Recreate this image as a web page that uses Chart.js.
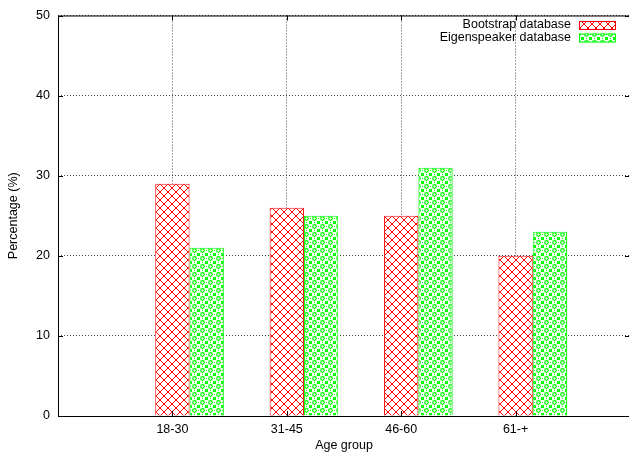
<!DOCTYPE html>
<html lang="en">

<head>
    <meta charset="UTF-8">
    <title>Age group distribution</title>
    <script src="https://cdn.jsdelivr.net/npm/chart.js"></script>
    <style>
        body {
            margin: 0;
            overflow: hidden;
            background: #fff;
        }
        #chart-container {
            width: 640px;
            height: 453px;
        }
    </style>
</head>

<body>
    <div id="chart-container">
        <canvas id="ageChart"></canvas>
    </div>

    <script>
        const categories = ['18-30', '31-45', '46-60', '61-+'];
        const bootstrap = [29, 26, 25, 20];
        const eigenspeaker = [21, 25, 31, 23];
        const yTicks = [0, 10, 20, 30, 40, 50];

        const FONT = '"Liberation Sans", Arial, sans-serif';

        // gnuplot-like fill patterns
        function crossPattern(color) {
            const c = document.createElement('canvas');
            c.width = 8; c.height = 8;
            const g = c.getContext('2d');
            g.fillStyle = '#fff';
            g.fillRect(0, 0, 8, 8);
            g.strokeStyle = color;
            g.lineWidth = 1;
            g.beginPath();
            g.moveTo(0, 0); g.lineTo(8, 8);
            g.moveTo(8, 0); g.lineTo(0, 8);
            g.stroke();
            return g.createPattern(c, 'repeat');
        }

        function ringPattern(color) {
            const c = document.createElement('canvas');
            c.width = 8; c.height = 8;
            const g = c.getContext('2d');
            g.fillStyle = '#fff';
            g.fillRect(0, 0, 8, 8);
            g.strokeStyle = color;
            g.fillStyle = color;
            g.lineWidth = 1.2;
            g.beginPath();
            g.arc(2.5, 2.5, 1.8, 0, Math.PI * 2);
            g.stroke();
            g.fillRect(5, 5, 3, 3);
            g.fillRect(2, 6, 1, 1);
            g.fillRect(6, 2, 1, 1);
            return g.createPattern(c, 'repeat');
        }

        const redFill = crossPattern('#ff0000');
        const greenFill = ringPattern('#00ff00');

        // frame with inward ticks on all four sides
        const frame = {
            id: 'frame',
            afterDatasetsDraw(chart) {
                const { ctx, chartArea: a, scales: { x, y } } = chart;
                ctx.save();
                ctx.strokeStyle = '#000';
                ctx.lineWidth = 1;
                ctx.strokeRect(a.left + 0.5, a.top + 0.5, a.right - a.left, a.bottom - a.top);
                ctx.beginPath();
                y.ticks.forEach(t => {
                    const py = Math.round(y.getPixelForValue(t.value)) + 0.5;
                    ctx.moveTo(a.left, py); ctx.lineTo(a.left + 5, py);
                    ctx.moveTo(a.right, py); ctx.lineTo(a.right - 5, py);
                });
                x.ticks.forEach(t => {
                    const px = Math.round(x.getPixelForValue(t.value)) + 0.5;
                    ctx.moveTo(px, a.bottom); ctx.lineTo(px, a.bottom - 5);
                    ctx.moveTo(px, a.top); ctx.lineTo(px, a.top + 5);
                });
                ctx.stroke();
                ctx.restore();
            }
        };

        // key in the top right corner, text right aligned, sample on the right
        const key = {
            id: 'key',
            afterDraw(chart) {
                const { ctx } = chart;
                ctx.save();
                ctx.font = '12.5px ' + FONT;
                ctx.textAlign = 'right';
                ctx.textBaseline = 'middle';
                chart.data.datasets.forEach((ds, i) => {
                    const yc = 25 + i * 12.5;
                    ctx.fillStyle = '#000';
                    ctx.fillText(ds.label, 571, yc);
                    ctx.fillStyle = ds.backgroundColor;
                    ctx.fillRect(579, yc - 4, 37, 9);
                    ctx.strokeStyle = ds.borderColor;
                    ctx.lineWidth = 1;
                    ctx.strokeRect(579.5, yc - 3.5, 36, 8);
                });
                ctx.restore();
            }
        };

        const ctx = document.getElementById('ageChart').getContext('2d');
        const ageChart = new Chart(ctx, {
            type: 'bar',
            data: {
                datasets: [{
                    label: 'Bootstrap database',
                    data: categories.map((c, i) => ({ x: i, y: bootstrap[i] })),
                    backgroundColor: redFill,
                    borderColor: '#ff0000',
                    borderWidth: 1
                }, {
                    label: 'Eigenspeaker database',
                    data: categories.map((c, i) => ({ x: i, y: eigenspeaker[i] })),
                    backgroundColor: greenFill,
                    borderColor: '#00ff00',
                    borderWidth: 1
                }]
            },
            options: {
                responsive: true,
                maintainAspectRatio: false,
                animation: false,
                categoryPercentage: 0.6,
                barPercentage: 1,
                layout: { padding: { top: 13, right: 10, left: 0, bottom: 0 } },
                plugins: {
                    legend: { display: false },
                    tooltip: { enabled: false }
                },
                scales: {
                    x: {
                        type: 'linear',
                        offset: false,
                        min: -1.15,
                        max: 3.85,
                        afterBuildTicks: s => {
                            // ticks sit under the first bar of each group
                            s.ticks = categories.map((c, i) => ({ value: i - 0.15 }));
                        },
                        afterFit: s => { s.height = 37; },
                        ticks: {
                            autoSkip: false,
                            maxRotation: 0,
                            padding: 6,
                            color: '#000',
                            font: { family: FONT, size: 12.5 },
                            callback: (v, i) => categories[i]
                        },
                        grid: {
                            offset: false,
                            drawTicks: false,
                            color: '#444',
                            lineWidth: 1
                        },
                        border: { display: false, dash: [1, 2] },
                        title: {
                            display: true,
                            text: 'Age group',
                            color: '#000',
                            font: { family: FONT, size: 12.5 },
                            padding: { top: 0, bottom: 0 }
                        }
                    },
                    y: {
                        min: 0,
                        max: 50,
                        afterBuildTicks: s => {
                            s.ticks = yTicks.map(v => ({ value: v }));
                        },
                        afterFit: s => { s.width = 58; },
                        ticks: {
                            padding: 8,
                            color: '#000',
                            font: { family: FONT, size: 12.5 }
                        },
                        grid: {
                            drawTicks: false,
                            color: '#444',
                            lineWidth: 1
                        },
                        border: { display: false, dash: [1, 2] },
                        title: {
                            display: true,
                            text: 'Percentage (%)',
                            color: '#000',
                            font: { family: FONT, size: 12.5 },
                            padding: { top: 6, bottom: 0 }
                        }
                    }
                }
            },
            plugins: [frame, key]
        });
    </script>
</body>

</html>
